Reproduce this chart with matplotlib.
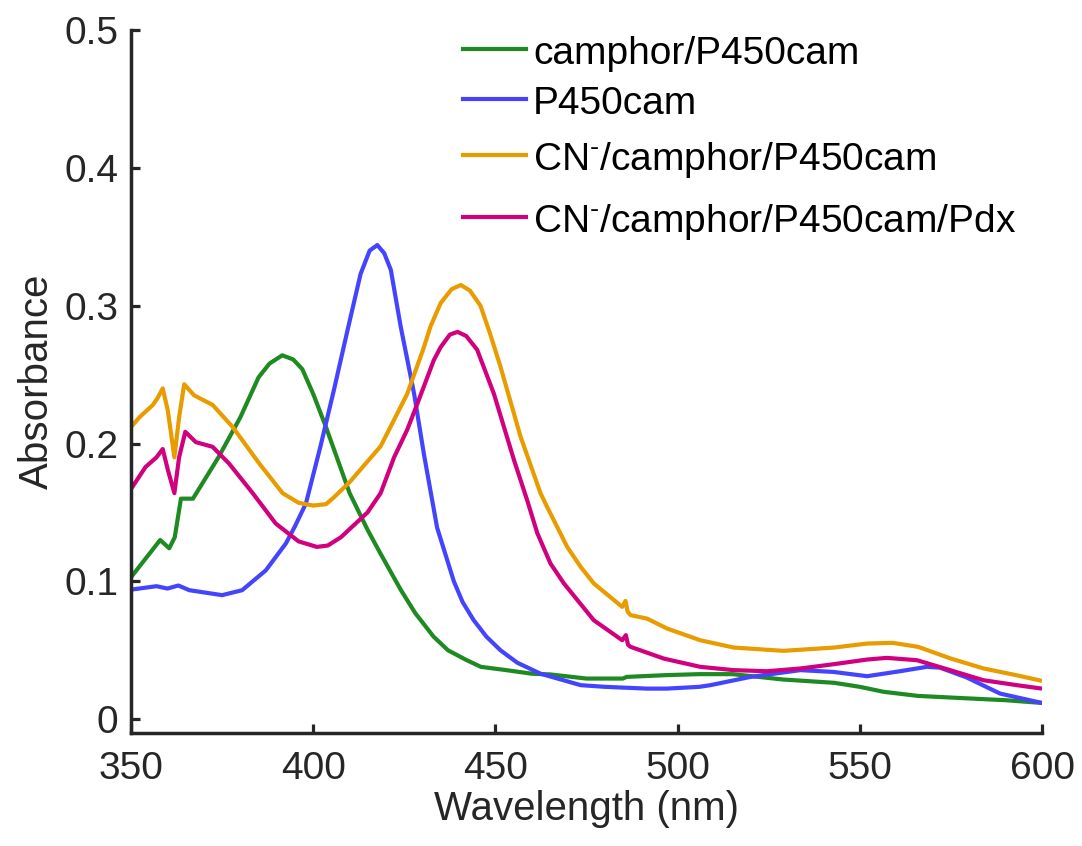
import matplotlib
matplotlib.use('Agg')
import matplotlib.pyplot as plt
from matplotlib.lines import Line2D

plt.rcParams['font.family'] = ['Liberation Sans', 'DejaVu Sans']
plt.rcParams['mathtext.fontset'] = 'custom'
plt.rcParams['mathtext.rm'] = 'Liberation Sans'
plt.rcParams['mathtext.it'] = 'Liberation Sans'

# ── spectra (wavelength nm, absorbance) ─────────────────────
wl_cam = [350, 358, 360.5, 362, 363.7, 367, 374, 380, 385, 388, 391.5, 394.5,
          397, 400, 403.5, 410, 415, 418.5, 424, 428, 433, 437, 442, 446, 453,
          460, 465, 475, 485, 486, 497, 506, 515, 529, 543, 550, 556.5, 566,
          579, 590, 600]
abs_cam = [0.103, 0.130, 0.124, 0.132, 0.160, 0.160, 0.190, 0.219, 0.248, 0.258,
           0.264, 0.261, 0.254, 0.236, 0.212, 0.164, 0.137, 0.120, 0.094, 0.077,
           0.060, 0.050, 0.043, 0.038, 0.0356, 0.033, 0.0325, 0.0295, 0.0295,
           0.0307, 0.032, 0.0327, 0.0327, 0.0288, 0.0264, 0.0235, 0.0199,
           0.0169, 0.0152, 0.0138, 0.0118]

wl_p450 = [350, 357, 360, 363, 366, 370, 375, 380.5, 387, 392.5, 395, 398, 402,
           405.7, 409.4, 413, 415.5, 417.6, 419.5, 421.3, 424, 427.7, 430.4,
           434, 438.6, 441, 444, 447.5, 451.4, 456, 462.4, 473.4, 480, 491.6,
           497, 506, 509, 520, 533.7, 542.8, 552, 561, 568.4, 572, 579.4, 588.5,
           600]
abs_p450 = [0.094, 0.0965, 0.0948, 0.097, 0.0936, 0.092, 0.090, 0.0936, 0.108,
            0.1275, 0.140, 0.1565, 0.198, 0.239, 0.282, 0.323, 0.340, 0.344,
            0.338, 0.326, 0.285, 0.236, 0.192, 0.139, 0.100, 0.085, 0.072,
            0.060, 0.050, 0.041, 0.033, 0.0247, 0.0235, 0.0222, 0.0222, 0.0235,
            0.0247, 0.0307, 0.0356, 0.0343, 0.0312, 0.0348, 0.038, 0.0374,
            0.0302, 0.0186, 0.0118]

wl_cn = [350, 352.3, 356, 357.3, 358.7, 360.1, 361.9, 363.2, 364.6, 367.3,
         372.4, 377.9, 385.2, 391.6, 396, 400, 403.5, 405.7, 410, 418.5, 425.8,
         430.4, 432.2, 435, 438, 440.5, 443, 445.9, 448.5, 451.4, 456.9, 462.4,
         464.2, 469.7, 473.4, 477, 484.8, 485.7, 486.3, 487.1, 491.6, 497.1,
         506.2, 515.4, 529, 543, 552, 559, 566, 575, 584, 593, 600]
abs_cn = [0.212, 0.219, 0.228, 0.233, 0.240, 0.224, 0.190, 0.219, 0.243, 0.235,
          0.228, 0.212, 0.1855, 0.164, 0.157, 0.155, 0.156, 0.161, 0.172,
          0.198, 0.236, 0.270, 0.285, 0.302, 0.312, 0.315, 0.311, 0.300, 0.280,
          0.2557, 0.205, 0.1638, 0.154, 0.125, 0.1105, 0.0985, 0.0815, 0.0858,
          0.078, 0.0755, 0.073, 0.0658, 0.0573, 0.052, 0.0496, 0.052, 0.0549,
          0.0554, 0.0525, 0.044, 0.0368, 0.0319, 0.0278]

wl_pdx = [350, 354, 357, 358.7, 360.1, 361.9, 363.2, 364.9, 367.8, 372.4,
          376.9, 383.4, 389.7, 396, 401, 404, 407.6, 414.9, 418.5, 422.2,
          425.8, 428.6, 433.1, 435, 437.5, 439.6, 442, 445, 449.6, 455.1,
          458.7, 461.5, 465.1, 468.8, 477, 484.8, 485.8, 486.4, 487.1, 496.2,
          506.2, 515.4, 524.5, 533.7, 542.8, 552, 557.4, 565.7, 574.8, 583.9,
          593.1, 600]
abs_pdx = [0.167, 0.183, 0.190, 0.196, 0.181, 0.164, 0.190, 0.2085, 0.201,
           0.1976, 0.1855, 0.164, 0.142, 0.129, 0.125, 0.126, 0.132, 0.150,
           0.164, 0.190, 0.210, 0.229, 0.2605, 0.270, 0.279, 0.281, 0.278,
           0.268, 0.236, 0.188, 0.159, 0.135, 0.113, 0.0985, 0.0718, 0.0573,
           0.061, 0.054, 0.0525, 0.044, 0.038, 0.0356, 0.0348, 0.0368, 0.0399,
           0.0433, 0.0445, 0.0428, 0.0356, 0.0283, 0.0247, 0.0222]

labels = ['camphor/P450cam', 'P450cam',
          r'CN$^{\text{-}}$/camphor/P450cam', r'CN$^{\text{-}}$/camphor/P450cam/Pdx']
colors = ['#1e8a22', '#4444ff', '#e89c00', '#d0007f']

W, H = 1082, 846
fig = plt.figure(figsize=(W / 100, H / 100), dpi=100)
ax = fig.add_axes([131 / W, 1 - 733 / H, 911 / W, 703 / H])

series = [(wl_cam, abs_cam), (wl_p450, abs_p450), (wl_cn, abs_cn), (wl_pdx, abs_pdx)]
for (x, y), c in zip(series, colors):
    ax.plot(x, y, color=c, lw=3, solid_joinstyle='round', solid_capstyle='butt')

ax.set_xlim(350, 600)
ax.set_ylim(-0.01, 0.5)
ax.set_xticks([350, 400, 450, 500, 550, 600])
ax.set_yticks([0, 0.1, 0.2, 0.3, 0.4, 0.5])
ax.set_yticklabels(['0', '0.1', '0.2', '0.3', '0.4', '0.5'])

dark = '#262626'
for s in ['top', 'right']:
    ax.spines[s].set_visible(False)
for s in ['left', 'bottom']:
    ax.spines[s].set_linewidth(2.5)
    ax.spines[s].set_color(dark)
ax.tick_params(direction='in', length=6.5, width=2.3, colors=dark, labelsize=28)
ax.tick_params(axis='x', pad=13)
ax.tick_params(axis='y', pad=9)

ax.set_xlabel('Wavelength (nm)', fontsize=29, color=dark, labelpad=2)
ax.set_ylabel('Absorbance', fontsize=29, color=dark, labelpad=6)

# legend drawn by hand: rows are unevenly spaced (superscript rows sit lower)
handle_y = [49, 99, 155, 217]
for yy, lab, c in zip(handle_y, labels, colors):
    fig.add_artist(Line2D([463 / W, 526 / W], [1 - yy / H, 1 - yy / H],
                          transform=fig.transFigure, color=c, lw=3))
    fig.text(533 / W, 1 - (yy + 14.5) / H, lab, fontsize=28, color='black',
             ha='left', va='baseline')

fig.savefig('out.png', dpi=100)
